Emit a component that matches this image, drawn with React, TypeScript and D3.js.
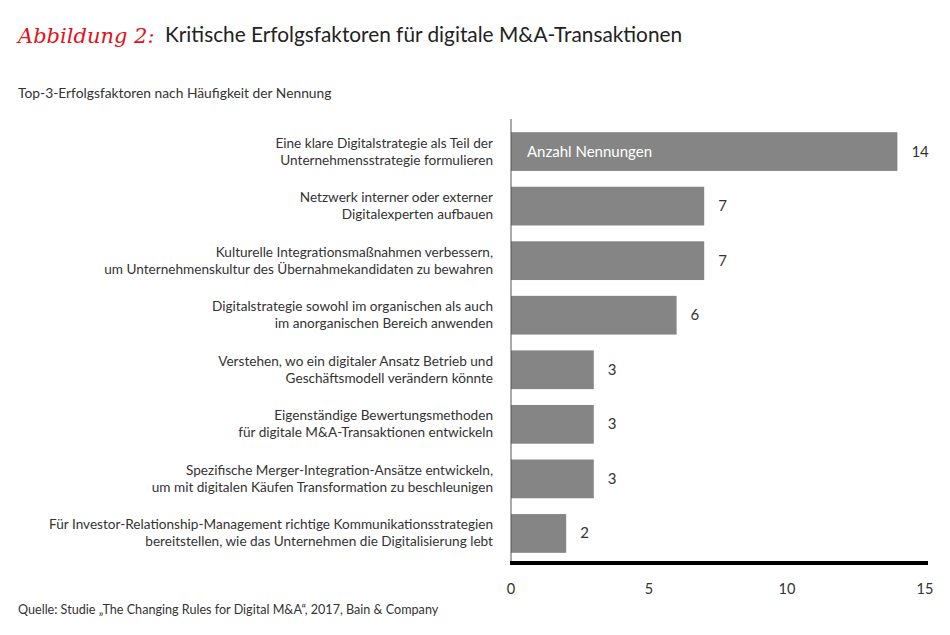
import React from "react";
import * as d3 from "d3";

const categories: string[][] = [
  ["Eine klare Digitalstrategie als Teil der", "Unternehmensstrategie formulieren"],
  ["Netzwerk interner oder externer", "Digitalexperten aufbauen"],
  ["Kulturelle Integrationsmaßnahmen verbessern,", "um Unternehmenskultur des Übernahmekandidaten zu bewahren"],
  ["Digitalstrategie sowohl im organischen als auch", "im anorganischen Bereich anwenden"],
  ["Verstehen, wo ein digitaler Ansatz Betrieb und", "Geschäftsmodell verändern könnte"],
  ["Eigenständige Bewertungsmethoden", "für digitale M&A-Transaktionen entwickeln"],
  ["Spezifische Merger-Integration-Ansätze entwickeln,", "um mit digitalen Käufen Transformation zu beschleunigen"],
  ["Für Investor-Relationship-Management richtige Kommunikationsstrategien", "bereitstellen, wie das Unternehmen die Digitalisierung lebt"],
];
const values: number[] = [14, 7, 7, 6, 3, 3, 3, 2];
const xTicks: number[] = [0, 5, 10, 15];

const FONT = "Lato, 'Open Sans', sans-serif";

export default function App() {
  const W = 950, H = 635;
  const x = d3.scaleLinear().domain([0, 15]).range([511, 925]);
  const idx = d3.range(values.length);
  const y = d3.scaleBand<number>().domain(idx).range([124, 561]).paddingInner(0.29).paddingOuter(0.15);
  const bw = y.bandwidth();
  return (
    <svg width={W} height={H} style={{ position: "absolute", left: 0, top: 0, background: "#fff" }} fontFamily={FONT}>
      <text x={18} y={43} fill="#e3101a" fontSize={21} fontStyle="italic" fontFamily="'DejaVu Serif', serif">Abbildung 2:</text>
      <text x={165} y={42} fill="#222" fontSize={20.8}>Kritische Erfolgsfaktoren für digitale M&amp;A-Transaktionen</text>
      <text x={18} y={98} fill="#333" fontSize={13.8}>Top-3-Erfolgsfaktoren nach Häufigkeit der Nennung</text>
      {idx.map((i) => {
        const cy = (y(i) as number) + bw / 2;
        return (
          <g key={i}>
            <rect x={x(0)} y={y(i)} width={x(values[i]) - x(0)} height={bw} fill="#858585" />
            <text x={x(values[i]) + 14} y={cy + 5} fontSize={15} fill="#333">{values[i]}</text>
            <text x={493} y={cy - 4} textAnchor="end" fontSize={13.6} fill="#333">{categories[i][0]}</text>
            <text x={493} y={cy + 13} textAnchor="end" fontSize={13.6} fill="#333">{categories[i][1]}</text>
          </g>
        );
      })}
      <text x={527} y={(y(0) as number) + bw / 2 + 5} fill="#fff" fontSize={15}>Anzahl Nennungen</text>
      <line x1={511} x2={511} y1={119} y2={563} stroke="#555" strokeWidth={1} />
      <line x1={510} x2={928} y1={563} y2={563} stroke="#000" strokeWidth={4} />
      {xTicks.map((t) => (
        <text key={t} x={x(t)} y={594} textAnchor="middle" fontSize={14.5} fill="#333">{t}</text>
      ))}
      <text x={18} y={614} fill="#333" fontSize={12.6}>Quelle: Studie „The Changing Rules for Digital M&amp;A“, 2017, Bain &amp; Company</text>
    </svg>
  );
}
